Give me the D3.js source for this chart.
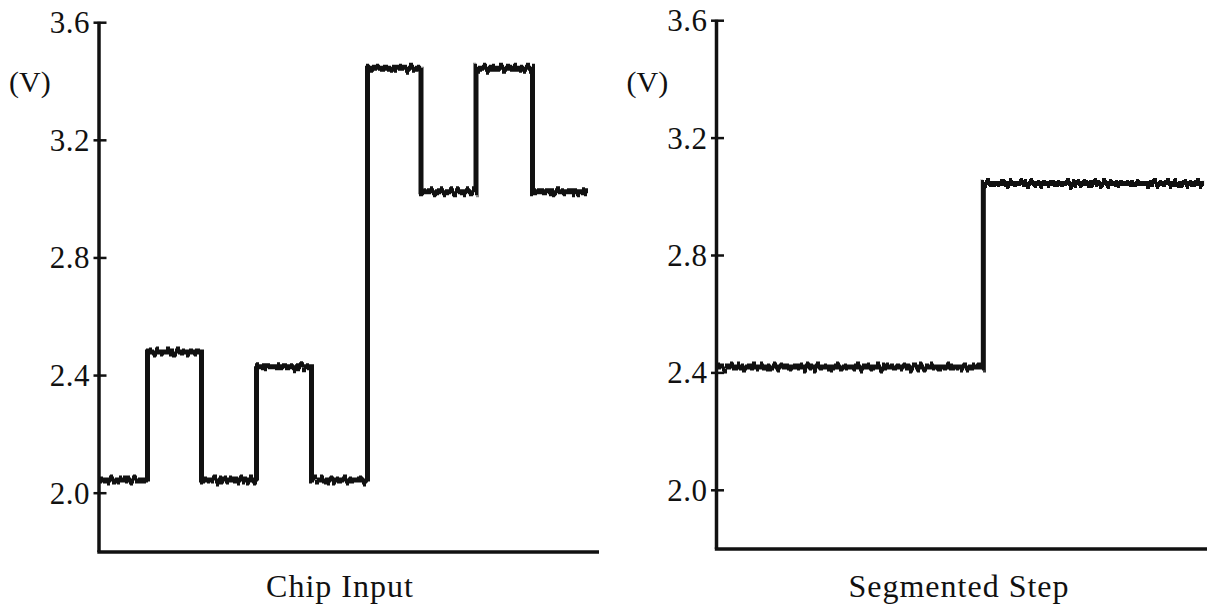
<!DOCTYPE html>
<html>
<head>
<meta charset="utf-8">
<script src="https://cdn.jsdelivr.net/npm/d3@7"></script>
<style>
  body { margin: 0; background: #fff; }
  svg { display: block; }
  text { font-family: "Liberation Serif", "Times New Roman", serif; fill: #111; }
</style>
</head>
<body>
<div id="chart"></div>
<script>
// Y axis ticks (volts), shared by both panels
var yTicks = [2.0, 2.4, 2.8, 3.2, 3.6];

// Chip Input: step start times (0-100 of the time axis) and levels (V)
var chipTimes  = [0, 9.7, 20.5, 31.5, 42.5, 53.7, 64.4, 75.4, 86.7, 97.6];
var chipLevels = [2.045, 2.48, 2.045, 2.43, 2.045, 3.445, 3.025, 3.445, 3.025, 3.025];

// Segmented Step
var stepTimes  = [0, 54.4, 99.2];
var stepLevels = [2.42, 3.045, 3.045];

var panels = [
  {title: 'Chip Input', times: chipTimes, levels: chipLevels,
   x0: 99, x1: 599, yTop: 22.7, yBot: 552, titleX: 340},
  {title: 'Segmented Step', times: stepTimes, levels: stepLevels,
   x0: 716.5, x1: 1207, yTop: 20.7, yBot: 549, titleX: 959}
];

var svg = d3.select('#chart')
    .append('svg')
    .attr('width', 1207)
    .attr('height', 605);

// vertical jitter to mimic scope trace noise (styling only)
var defs = svg.append('defs');
var filt = defs.append('filter')
    .attr('id', 'trace')
    .attr('filterUnits', 'userSpaceOnUse')
    .attr('x', 0).attr('y', 0).attr('width', 1207).attr('height', 605)
    .attr('color-interpolation-filters', 'sRGB');
filt.append('feTurbulence')
    .attr('type', 'fractalNoise')
    .attr('baseFrequency', '0.3 0')
    .attr('numOctaves', 2)
    .attr('seed', 5)
    .attr('result', 'noise');
filt.append('feColorMatrix')
    .attr('in', 'noise')
    .attr('type', 'matrix')
    .attr('values', '0 0 0 0 0.5  0 2.4 0 0 -0.7  0 0 0 0 0  0 0 0 0 1')
    .attr('result', 'map');
filt.append('feDisplacementMap')
    .attr('in', 'SourceGraphic')
    .attr('in2', 'map')
    .attr('scale', 7)
    .attr('xChannelSelector', 'R')
    .attr('yChannelSelector', 'G')
    .attr('result', 'moved');
filt.append('feMorphology')
    .attr('in', 'moved')
    .attr('operator', 'dilate')
    .attr('radius', '0.6 1');

panels.forEach(function(p) {
  var x = d3.scaleLinear().domain([0, 100]).range([p.x0, p.x1]);
  var y = d3.scaleLinear().domain([1.8, 3.6]).range([p.yBot, p.yTop]);

  var g = svg.append('g');

  // trace
  var pts = p.times.map(function(t, i) { return [t, p.levels[i]]; });
  var line = d3.line()
      .x(function(d) { return x(d[0]); })
      .y(function(d) { return y(d[1]); })
      .curve(d3.curveStepAfter);

  g.append('path')
      .datum(pts)
      .attr('d', line)
      .attr('fill', 'none')
      .attr('stroke', '#111')
      .attr('stroke-width', 3)
      .attr('stroke-linejoin', 'miter')
      .attr('filter', 'url(#trace)');

  // axes
  g.append('line')
      .attr('x1', p.x0).attr('x2', p.x0)
      .attr('y1', y(3.6) - 1).attr('y2', p.yBot)
      .attr('stroke', '#111').attr('stroke-width', 3.5);
  g.append('line')
      .attr('x1', p.x0 - 1.7).attr('x2', p.x1)
      .attr('y1', p.yBot).attr('y2', p.yBot)
      .attr('stroke', '#111').attr('stroke-width', 3.5);

  var ticks = g.selectAll('.tick')
      .data(yTicks)
      .enter().append('g')
      .attr('class', 'tick')
      .attr('transform', function(d) { return 'translate(' + p.x0 + ',' + y(d) + ')'; });

  ticks.append('line')
      .attr('x1', -5.5).attr('x2', 7.5)
      .attr('stroke', '#111').attr('stroke-width', 2.5);

  ticks.append('text')
      .attr('x', -9)
      .attr('y', 10.5)
      .attr('text-anchor', 'end')
      .attr('font-size', 31)
      .attr('letter-spacing', 0.5)
      .text(function(d) { return d.toFixed(1); });

  // unit label
  g.append('text')
      .attr('x', p.x0 - 90)
      .attr('y', 92)
      .attr('font-size', 30)
      .text('(V)');

  // panel title
  g.append('text')
      .attr('x', p.titleX)
      .attr('y', 597)
      .attr('text-anchor', 'middle')
      .attr('font-size', 32)
      .attr('letter-spacing', 1)
      .text(p.title);
});
</script>
</body>
</html>
